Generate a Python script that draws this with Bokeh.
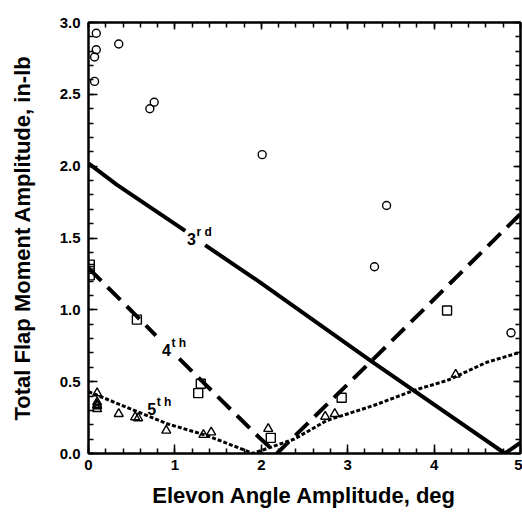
from bokeh.plotting import figure
from bokeh.models import LinearAxis, SingleIntervalTicker, Range1d, NumeralTickFormatter
from bokeh.embed import file_html
from bokeh.resources import INLINE
from bokeh.core.properties import value

nan = float("nan")

# Measured data points
circle_x = [0.09, 0.09, 0.07, 0.07, 0.35, 0.71, 0.76, 2.01, 3.45, 3.31, 4.89]
circle_y = [2.925, 2.81, 2.76, 2.59, 2.85, 2.40, 2.445, 2.08, 1.726, 1.30, 0.84]

square_x = [0.015, 0.015, 0.015, 0.56, 1.30, 1.27, 2.11, 2.93, 4.15]
square_y = [1.315, 1.285, 1.24, 0.932, 0.485, 0.42, 0.109, 0.388, 0.995]

triangle_x = [0.10, 0.10, 0.10, 0.10, 0.10, 0.35, 0.54, 0.575, 0.90, 1.33, 1.42, 2.08, 2.74, 2.85, 4.25]
triangle_y = [0.42, 0.357, 0.34, 0.33, 0.31, 0.276, 0.253, 0.246, 0.16, 0.13, 0.148, 0.172, 0.257, 0.276, 0.55]

# Harmonic curves (NaN breaks where the labels sit)
h3_x = [0.0, 0.33, 1.12, nan, 1.35, 1.99, 3.28, 4.82, 5.0]
h3_y = [2.02, 1.87, 1.55, nan, 1.45, 1.19, 0.64, 0.0, 0.075]

h4_x = [0.0, 0.56, 0.78, nan, 1.05, 1.97, 2.18, 3.28, 5.0]
h4_y = [1.29, 0.955, 0.82, nan, 0.66, 0.115, 0.0, 0.647, 1.668]

h5_x = [0.0, 0.45, 0.91, 1.37, 1.82, 1.9, 2.38, 2.76, 3.30, 3.77, 4.15, 4.61, 5.0]
h5_y = [0.43, 0.32, 0.207, 0.125, 0.02, 0.0, 0.10, 0.23, 0.334, 0.44, 0.508, 0.635, 0.705]

FONT = "Liberation Sans"

p = figure(width=522, height=514, output_backend="svg", toolbar_location=None,
           x_range=Range1d(0, 5), y_range=Range1d(0, 3),
           min_border_left=88, min_border_right=2, min_border_top=22, min_border_bottom=61)
p.grid.visible = False
p.outline_line_color = "black"
p.outline_line_width = 2
p.background_fill_color = "white"
p.border_fill_color = "white"

xt = SingleIntervalTicker(interval=1, num_minor_ticks=5)
yt = SingleIntervalTicker(interval=0.5, num_minor_ticks=5)

for ax in p.xaxis:
    ax.ticker = xt
for ax in p.yaxis:
    ax.ticker = yt
    ax.formatter = NumeralTickFormatter(format="0.0")

for ax in p.xaxis + p.yaxis:
    ax.axis_line_width = 2
    ax.major_tick_in = 9
    ax.major_tick_out = 0
    ax.minor_tick_in = 5
    ax.minor_tick_out = 0
    ax.major_tick_line_width = 1.5
    ax.minor_tick_line_width = 1.5
    ax.major_label_text_font = FONT
    ax.major_label_text_font_style = "bold"
    ax.major_label_text_font_size = "15px"
    ax.major_label_text_color = "black"
    ax.axis_label_text_font = FONT
    ax.axis_label_text_font_style = "bold"
    ax.axis_label_text_font_size = "22px"
    ax.axis_label_text_color = "black"

p.xaxis.axis_label = "Elevon Angle Amplitude, deg"
p.yaxis.axis_label = "Total Flap Moment Amplitude, in-lb"
p.xaxis.major_label_standoff = 6
p.yaxis.major_label_standoff = 8
p.xaxis.axis_label_standoff = 10
p.yaxis.axis_label_standoff = 22

top = LinearAxis(ticker=SingleIntervalTicker(interval=1, num_minor_ticks=5))
right = LinearAxis(ticker=SingleIntervalTicker(interval=0.5, num_minor_ticks=5))
for ax, side in ((top, "above"), (right, "right")):
    ax.axis_line_width = 2
    ax.major_tick_in = 7
    ax.major_tick_out = 0
    ax.minor_tick_in = 5
    ax.minor_tick_out = 0
    ax.major_tick_line_width = 1.5
    ax.minor_tick_line_width = 1.5
    ax.major_label_text_font_size = "0px"
    ax.major_label_text_color = None
    ax.major_label_standoff = 0
    p.add_layout(ax, side)

# curves
p.line(h3_x, h3_y, line_color="black", line_width=4)
p.line(h4_x, h4_y, line_color="black", line_width=4, line_dash="18 9")
p.line(h5_x, h5_y, line_color="black", line_width=3, line_dash="4 2")

# markers
p.scatter(circle_x, circle_y, marker="circle", size=8, fill_color=None,
          line_color="black", line_width=1.4)
p.scatter(square_x, square_y, marker="square", size=9, fill_color=None,
          line_color="black", line_width=1.4)
p.scatter(triangle_x, triangle_y, marker="triangle", size=9, fill_color=None,
          line_color="black", line_width=1.4)

# harmonic labels
def label(x, y, main, sup):
    p.text([x], [y], text=[main], text_font=value(FONT), text_font_style="bold",
           text_font_size="16px", text_align="left", text_baseline="middle", text_color="black")
    p.text([x + 0.11], [y + 0.05], text=[sup], text_font=value(FONT), text_font_style="bold",
           text_font_size="12px", text_align="left", text_baseline="middle", text_color="black")

label(1.14, 1.49, "3", "r d")
label(0.85, 0.72, "4", "t h")
label(0.68, 0.31, "5", "t h")

open("out.html", "w").write(file_html(p, INLINE))
